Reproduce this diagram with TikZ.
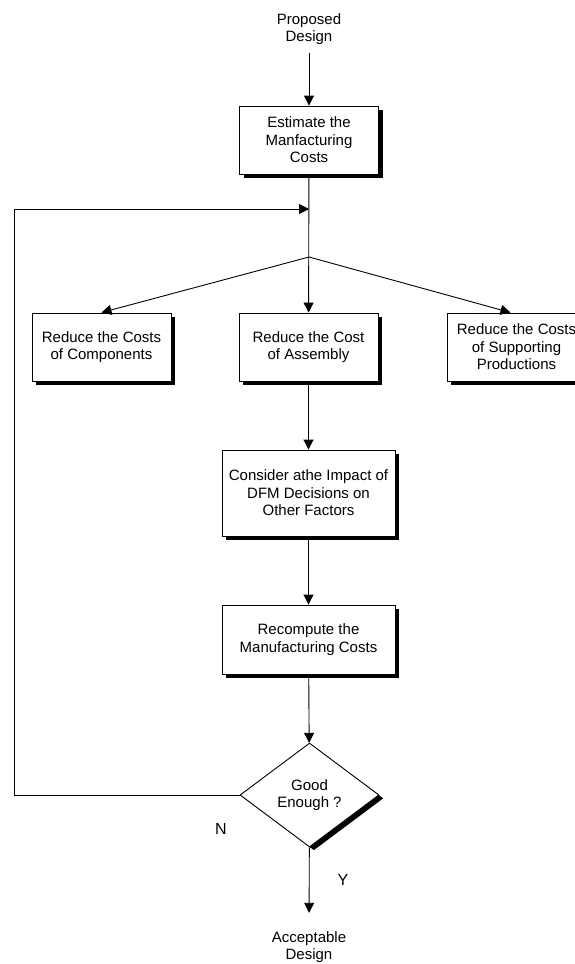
\documentclass[tikz,border=0pt]{standalone}
\usepackage{fontspec}
\setmainfont{Liberation Sans}
\usetikzlibrary{arrows.meta,shapes.geometric,shadows}
\begin{document}
\begin{tikzpicture}[x=1pt,y=-1pt,
  font=\fontsize{15}{17.5}\selectfont,
  line width=0.9pt,
  arr/.style={-{Triangle[length=10pt,width=10pt]}},
  plain/.style={align=center, inner sep=8pt},
  lbl/.style={font=\fontsize{16}{18}\selectfont, inner sep=0pt},
  box/.style={rectangle, draw=black, fill=white, align=center, inner sep=0pt,
    minimum width=139pt, minimum height=68pt,
    drop shadow={shadow xshift=4pt, shadow yshift=-4pt, fill=black, opacity=1}},
  dec/.style={diamond, draw=black, fill=white, align=center, inner sep=0pt,
    aspect=1.34, minimum width=139pt, minimum height=104pt,
    drop shadow={shadow xshift=4.4pt, shadow yshift=-3.3pt, fill=black, opacity=1}},
]
% page area
\clip (0,0) rectangle (575,964);
\fill[white] (0,0) rectangle (575,964);

% nodes
\node[plain] (start) at (309,29.3) {Proposed\\Design};
\node[box] (est) at (309,140) {Estimate the\\Manfacturing\\Costs};
\node[box] (comp) at (101.5,347) {Reduce the Costs\\of Components};
\node[box] (asm) at (308.5,347) {Reduce the Cost\\of Assembly};
\node[box] (supp) at (516.5,347) {Reduce the Costs\\of Supporting\\Productions};
\node[box, minimum width=173pt, minimum height=86pt] (dfm) at (308.5,493)
  {Consider athe Impact of\\DFM Decisions on\\Other Factors};
\node[box, minimum width=173pt, minimum height=69pt] (recomp) at (308.5,639.5)
  {Recompute the\\Manufacturing Costs};
\node[dec] (good) at (309.5,795) {Good\\Enough ?};
\node[plain] (accept) at (309,947) {Acceptable\\Design};
\node[lbl] (nlab) at (221,829) {N};
\node[lbl] (ylab) at (343,880) {Y};

% routing points
\coordinate (branch) at (309,257);
\coordinate (fb) at (309,209);
\coordinate (loopB) at (14,795);
\coordinate (loopT) at (14,209);

% connectors
\draw[arr] (start) -- (est);
\draw[arr] (est) -- (asm);
\draw[arr] (branch) -- (comp.north);
\draw[arr] (branch) -- ([xshift=-6pt]supp.north);
\draw[arr] (asm) -- (dfm);
\draw[arr] (dfm) -- (recomp);
\draw[arr] (recomp) -- (good);
\draw[arr] (good.west) -- (loopB) -- (loopT) -- (fb);
\draw[arr, shorten >=10pt] (good) -- (accept);
\end{tikzpicture}
\end{document}
